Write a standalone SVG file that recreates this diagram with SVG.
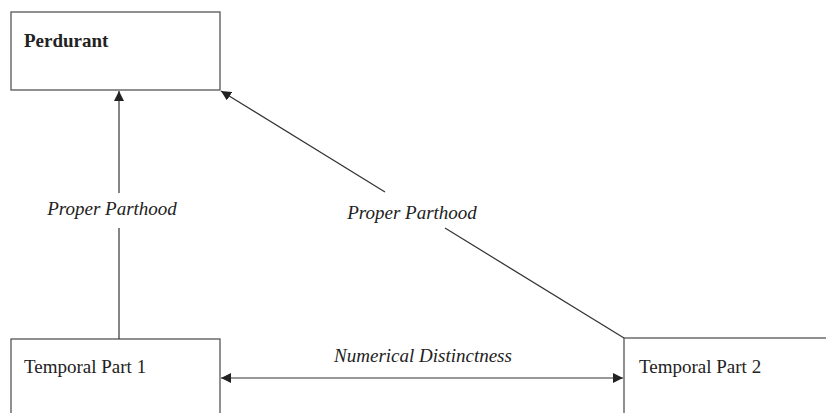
<svg xmlns="http://www.w3.org/2000/svg" width="826" height="413" viewBox="0 0 826 413">
<style>
.box{fill:#fff;stroke:#555;stroke-width:1.3}
.ln{stroke:#333;stroke-width:1.2;fill:none}
.t{font-family:"Liberation Serif","Times New Roman",serif;font-size:19px;fill:#222}
.b{font-weight:bold}
.i{font-style:italic}
</style>
<defs>
<marker id="ah" viewBox="0 0 10 10" refX="10" refY="5" markerWidth="10" markerHeight="10" markerUnits="userSpaceOnUse" orient="auto-start-reverse">
<path d="M0,0 L10,5 L0,10 z" fill="#222"/>
</marker>
</defs>
<rect width="826" height="413" fill="#fff"/>
<g id="perdurant">
<rect class="box" x="11" y="12" width="209" height="78"/>
<text class="t b" x="24" y="47">Perdurant</text>
</g>
<g id="tp1">
<rect class="box" x="11" y="339" width="209" height="90"/>
<text class="t" x="24" y="373">Temporal Part 1</text>
</g>
<g id="tp2">
<rect class="box" x="624" y="338" width="220" height="90"/>
<text class="t" x="639" y="373">Temporal Part 2</text>
</g>
<g id="connectors">
<line class="ln" x1="119" y1="339" x2="119" y2="228"/>
<line class="ln" x1="119" y1="193" x2="119" y2="91" marker-end="url(#ah)"/>
<text class="t i" x="112" y="215" text-anchor="middle">Proper Parthood</text>
<line class="ln" x1="624" y1="338" x2="445" y2="228"/>
<line class="ln" x1="385" y1="192" x2="221" y2="91" marker-end="url(#ah)"/>
<text class="t i" x="412" y="219" text-anchor="middle">Proper Parthood</text>
<line class="ln" x1="221" y1="378" x2="623" y2="378" marker-start="url(#ah)" marker-end="url(#ah)"/>
<text class="t i" x="423" y="362" text-anchor="middle">Numerical Distinctness</text>
</g>
</svg>
